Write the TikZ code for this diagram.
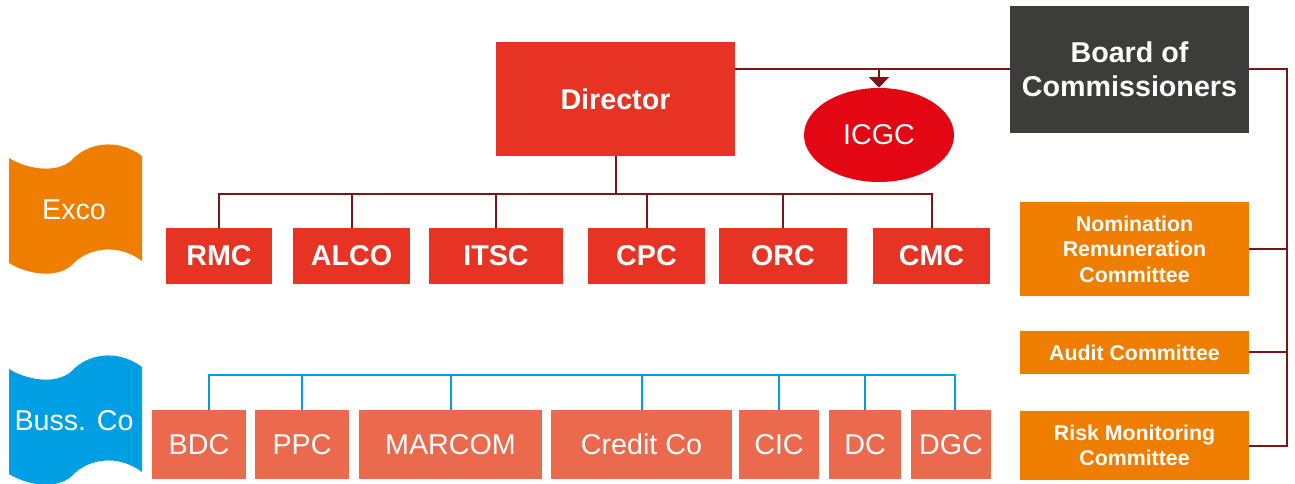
\documentclass[tikz,border=0pt]{standalone}
\usepackage{fontspec}
\setmainfont{Liberation Sans}
\usetikzlibrary{arrows.meta}
\usetikzlibrary{shapes.geometric}

\definecolor{dirred}{RGB}{230,51,35}
\definecolor{icgcred}{RGB}{227,6,19}
\definecolor{linered}{RGB}{124,21,24}
\definecolor{boardgray}{RGB}{60,60,59}
\definecolor{comorange}{RGB}{239,125,0}
\definecolor{bussblue}{RGB}{0,159,227}
\definecolor{unitsalmon}{RGB}{235,106,77}

\tikzset{
  orgline/.style={draw=linered, line width=1.5pt},
  unitline/.style={draw=bussblue, line width=1.5pt},
  bigbold/.style={font=\fontsize{21.5}{25.5}\selectfont\bfseries},
  redbox/.style={fill=dirred, text=white, inner sep=0pt, minimum height=42pt, bigbold},
  unitbox/.style={fill=unitsalmon, text=white, inner sep=0pt, minimum height=51.75pt,
    font=\fontsize{21.5}{25.5}\selectfont},
  combox/.style={fill=comorange, text=white, inner sep=0pt, minimum width=171.75pt,
    align=center, font=\fontsize{16}{19.2}\selectfont\bfseries},
  flagtext/.style={text=white, font=\fontsize{21.5}{25.5}\selectfont}
}

\begin{document}
\begin{tikzpicture}[x=0.75pt, y=-0.75pt]
	\useasboundingbox (0,0) rectangle (1295,484);

	% side banners
	\fill[comorange] (9,158) .. controls (25,168) and (55,175) .. (72,160)
		.. controls (85,145) and (115,136) .. (142,156) -- (142,261)
		.. controls (115,241) and (85,250) .. (72,265)
		.. controls (55,280) and (25,273) .. (9,263) -- cycle;
	\fill[bussblue, shift={(0,211)}] (9,158) .. controls (25,168) and (55,175) .. (72,160)
		.. controls (85,145) and (115,136) .. (142,156) -- (142,261)
		.. controls (115,241) and (85,250) .. (72,265)
		.. controls (55,280) and (25,273) .. (9,263) -- cycle;
	\node[flagtext] (excolabel) at (74,210) {Exco};
	\node[flagtext] (busslabel) at (74,421) {Buss. Co};

	% top level
	\node[redbox, minimum width=179.25pt, minimum height=85.5pt] (Director) at (615.5,99) {Director};
	\node[fill=boardgray, text=white, inner sep=0pt, minimum width=179.25pt, minimum height=95.25pt,
		align=center, bigbold] (Board) at (1129.5,69.5) {Board of\\Commissioners};
	\node[ellipse, fill=icgcred, text=white, inner sep=0pt, minimum width=112.5pt, minimum height=70.5pt,
		font=\fontsize{21.5}{25.5}\selectfont] (ICGC) at (879,135) {ICGC};

	\draw[orgline] (Director.east |- Board.west) -- (Board.west);
	\draw[orgline, -{Triangle[width=15pt,length=8pt]}] (ICGC.north |- Board.west) -- (ICGC.north);

	% executive committees
	\foreach \nm/\cx/\bw in {RMC/219/79.5, ALCO/351.5/87.75, ITSC/496/100.5,
		CPC/646.5/87.75, ORC/783/96, CMC/931.5/87.75}
		\node[redbox, minimum width=\bw pt] (\nm) at (\cx,256) {\nm};

	\coordinate (exbus) at (0,194);
	\draw[orgline] (RMC.north) |- (CMC.north |- exbus) -- (CMC.north);
	\draw[orgline] (Director.south) -- (Director.south |- exbus);
	\foreach \nm in {ALCO,ITSC,CPC,ORC}
		\draw[orgline] (\nm.north) -- (\nm.north |- exbus);

	% business committees
	\foreach \nm/\txt/\cx/\bw in {BDC/BDC/199/70.5, PPC/PPC/302/70.5, MARCOM/MARCOM/450.5/137.25,
		CreditCo/Credit Co/641.5/135.75, CIC/CIC/779/60, DC/DC/865/54, DGC/DGC/951/60}
		\node[unitbox, minimum width=\bw pt] (\nm) at (\cx,444.5) {\txt};

	\coordinate (unitbus) at (0,375);
	\coordinate (bdcdrop) at ([xshift=7.5pt]BDC.north);
	\coordinate (dgcdrop) at ([xshift=3pt]DGC.north);
	\draw[unitline] (bdcdrop) |- (dgcdrop |- unitbus) -- (dgcdrop);
	\foreach \nm in {PPC,MARCOM,CreditCo,CIC,DC}
		\draw[unitline] (\nm.north) -- (\nm.north |- unitbus);

	% board committees
	\node[combox, minimum height=70.5pt] (Nomination) at (1134.5,249) {Nomination\\Remuneration\\Committee};
	\node[combox, minimum height=32.25pt] (Audit) at (1134.5,352.5) {Audit Committee};
	\node[combox, minimum height=51.75pt] (Risk) at (1134.5,445.5) {Risk Monitoring\\Committee};

	\coordinate (rbus) at (1287,0);
	\draw[orgline] (Board.east) -| (rbus |- Risk.east) -- (Risk.east);
	\draw[orgline] (Nomination.east) -- (rbus |- Nomination.east);
	\draw[orgline] (Audit.east) -- (rbus |- Audit.east);
\end{tikzpicture}
\end{document}
